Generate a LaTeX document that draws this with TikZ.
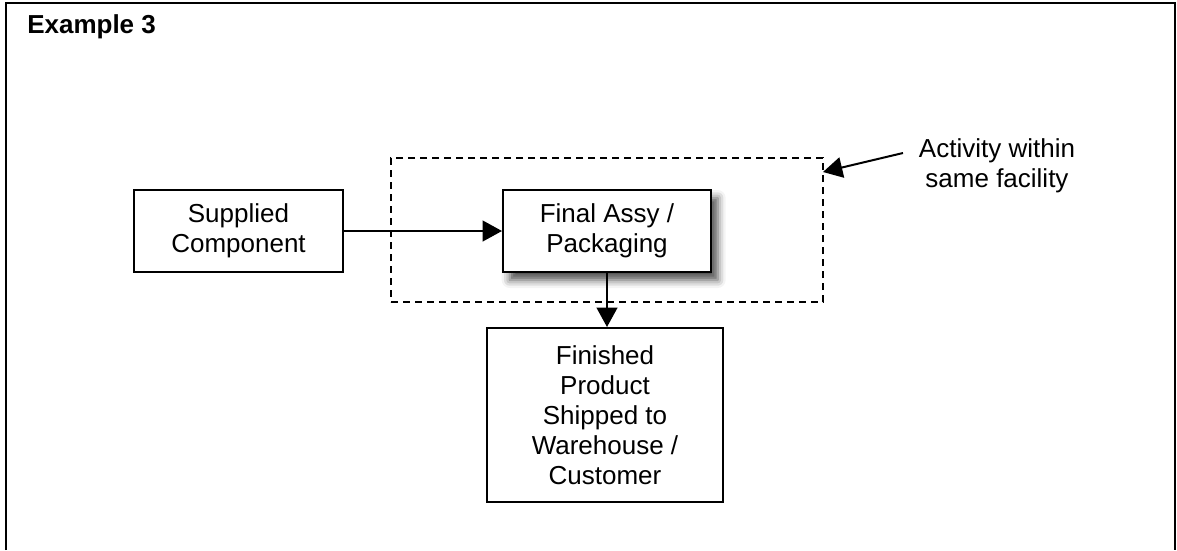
\documentclass[tikz,border=0pt]{standalone}
\usepackage{fontspec}
\setmainfont{Liberation Sans}
\usetikzlibrary{arrows.meta,shadows.blur}

\tikzset{
  flowbox/.style={draw,line width=1.5pt,fill=white,align=center,inner sep=0pt,
    font=\fontsize{19.5}{22.5}\selectfont},
  flowarrow/.style={line width=1.5pt,-{Triangle[length=14.5pt,width=15.5pt]}},
}

\begin{document}
\begin{tikzpicture}[x=0.75pt,y=0.75pt,yscale=-1,xscale=1]
\useasboundingbox (0,0) rectangle (1177,550);

%Frame (open at the bottom)
\draw [line width=1.5pt] (6,550) -- (6,3) -- (1175,3) -- (1175,550);

% Title
\node (title) [anchor=base west,inner sep=0pt,font=\fontsize{19.5}{22.5}\selectfont\bfseries] at (27,33) {Example 3};

% Same facility zone
\node (zone) [draw,dash pattern=on 5.25pt off 3.75pt,line width=1.5pt,minimum width=324pt,minimum height=108pt] at (607,230) {};

% Boxes
\node (supplied) [flowbox,minimum width=156.75pt,minimum height=61.5pt] at (238.5,231) {Supplied\\Component};
\node (assy) [flowbox,minimum width=156pt,minimum height=61.5pt,
  blur shadow={shadow xshift=5pt,shadow yshift=-6pt,shadow blur radius=6pt,shadow opacity=70}] at (607,231) {Final Assy /\\Packaging};
\node (finished) [flowbox,minimum width=177pt,minimum height=130.5pt] at (605,415) {Finished\\Product\\Shipped to\\Warehouse /\\Customer};

% Note
\node (note) [align=center,inner sep=0pt,font=\fontsize{19.5}{22.5}\selectfont] at (997,166) {Activity within\\same facility};
\coordinate (notetail) at (903,153);
\coordinate (zonetip) at (823,172);

% Connectors
\draw [flowarrow] (supplied) -- (assy);
\draw [flowarrow] (assy.south) -- (assy.south |- finished.north);
\draw [flowarrow] (notetail) -- (zonetip);

\end{tikzpicture}
\end{document}
